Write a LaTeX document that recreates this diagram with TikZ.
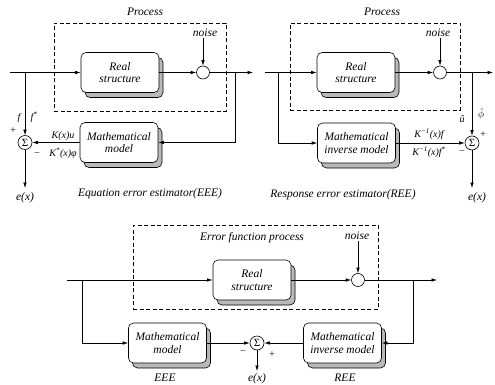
\documentclass[tikz,border=0pt]{standalone}
\usepackage{fontspec}
\setmainfont{Liberation Serif}
\usetikzlibrary{arrows.meta,shadows}
\begin{document}
\begin{tikzpicture}[x=1pt,y=-1pt,line width=0.6pt,
  blk/.style={draw,rounded corners=5pt,fill=white,minimum width=78pt,minimum height=40pt,align=center,inner sep=1pt,
    font=\itshape\fontsize{11.5}{12.5}\selectfont,
    copy shadow={shadow xshift=4pt,shadow yshift=-5pt,fill=gray!55,draw=black}},
  sumc/.style={draw,circle,minimum size=14pt,inner sep=0pt,fill=white,font=\fontsize{11}{11}\selectfont},
  junc/.style={draw,circle,minimum size=13pt,inner sep=0pt,fill=white},
  frame/.style={draw,dash pattern=on 4pt off 2.5pt,line width=0.5pt},
  arr/.style={-{Latex[length=5.5pt,width=3.5pt]}},
  lbl/.style={font=\itshape\fontsize{11.5}{12.5}\selectfont,inner sep=1pt},
  sml/.style={font=\itshape\fontsize{10}{11}\selectfont,inner sep=0.5pt}
]
\useasboundingbox (0,0) rectangle (495,385);

% ---------------- top left: EEE ----------------
\node[lbl] (p1) at (145,12) {Process};
\node[frame,minimum width=172pt,minimum height=88pt] (fr1) at (140,67) {};
\node[lbl] (nz1) at (205,33) {noise};
\node[blk] (rs1) at (120,72.5) {Real\\structure};
\node[junc] (n1) at (203,72.5) {};
\node[blk] (mm1) at (119,142.5) {Mathematical\\model};
\node[sumc] (s1) at (25,142.5) {Σ};
\coordinate (in1) at (10,72.5);
\coordinate (out1) at (253,72.5);
\coordinate (bl1) at (25,72.5);
\coordinate (br1) at (235,72.5);
\coordinate (e1) at (25,188);
\node[lbl] (ex1) at (25,198) {e(x)};
\node[lbl] (t1) at (150,194) {Equation error estimator(EEE)};
\node[sml] (f1) at (19,118) {f};
\node[sml] (fs1) at (34,117) {f\textsuperscript{*}};
\node[sml] (pl1) at (13,131) {+};
\node[sml] (mi1) at (37,155) {−};
\node[sml] (k1) at (63,136) {K(x)u};
\node[sml] (k2) at (63,153) {K\textsuperscript{*}(x)φ};

\draw[arr] (in1) -- (rs1);
\draw[arr] (rs1) -- (n1);
\draw[arr] (n1) -- (out1);
\draw[arr] (n1 |- nz1.south) -- (n1);
\draw[arr] (bl1) -- (s1);
\draw[arr] (br1) |- (mm1);
\draw[arr] (mm1) -- (s1);
\draw[arr] (s1) -- (e1);

% ---------------- top right: REE ----------------
\node[lbl] (p2) at (382,12) {Process};
\node[frame,minimum width=170pt,minimum height=87pt] (fr2) at (375,66.5) {};
\node[lbl] (nz2) at (438,33) {noise};
\node[blk] (rs2) at (356,72.5) {Real\\structure};
\node[junc] (n2) at (440,72.5) {};
\node[blk] (im2) at (356.5,143) {Mathematical\\inverse model};
\node[sumc] (s2) at (472,143) {Σ};
\coordinate (in2) at (265,72.5);
\coordinate (out2) at (493,72.5);
\coordinate (bl2) at (278,72.5);
\coordinate (br2) at (472,72.5);
\coordinate (e2) at (472,188);
\node[lbl] (ex2) at (477,198) {e(x)};
\node[lbl] (t2) at (343,195) {Response error estimator(REE)};
\node[sml] (uh) at (462,119) {û};
\node[sml] (ph) at (481,114) {$\hat{\phi}$};
\node[sml] (pl2) at (483,135) {+};
\node[sml] (mi2) at (462,153) {−};
\node[sml] (ki1) at (429,134) {K\textsuperscript{−1}(x)f};
\node[sml] (ki2) at (429,152) {K\textsuperscript{−1}(x)f\textsuperscript{*}};

\draw (in2) -- (bl2);
\draw[arr] (bl2) -- (rs2);
\draw[arr] (rs2) -- (n2);
\draw[arr] (n2) -- (out2);
\draw[arr] (n2 |- nz2.south) -- (n2);
\draw[arr] (bl2) |- (im2);
\draw[arr] (br2) -- (s2);
\draw[arr] (im2) -- (s2);
\draw[arr] (s2) -- (e2);

% ---------------- bottom: error function process ----------------
\node[frame,minimum width=245pt,minimum height=84pt] (fr3) at (255.5,267) {};
\node[lbl] (t3) at (252,238) {Error function process};
\node[lbl] (nz3) at (357,236) {noise};
\node[blk] (rs3) at (252,280) {Real\\structure};
\node[junc] (n3) at (358,280) {};
\node[blk] (mm3) at (167.5,343) {Mathematical\\model};
\node[blk] (im3) at (342.5,343) {Mathematical\\inverse model};
\node[sumc] (s3) at (257,343) {Σ};
\coordinate (in3) at (67,280);
\coordinate (out3) at (437,280);
\coordinate (bl3) at (82,280);
\coordinate (br3) at (413,280);
\coordinate (e3) at (257,371);
\node[lbl] (ex3) at (257,379) {e(x)};
\node[lbl] (eee) at (165,378) {EEE};
\node[lbl] (ree) at (345,378) {REE};
\node[sml] (mi3) at (243,353) {−};
\node[sml] (pl3) at (272,355) {+};

\draw[arr] (in3) -- (rs3);
\draw[arr] (rs3) -- (n3);
\draw[arr] (n3) -- (out3);
\draw[arr] (n3 |- nz3.south) -- (n3);
\draw[arr] (bl3) |- (mm3);
\draw[arr] (br3) |- (im3);
\draw[arr] (mm3) -- (s3);
\draw[arr] (im3) -- (s3);
\draw[arr] (s3) -- (e3);
\end{tikzpicture}
\end{document}
